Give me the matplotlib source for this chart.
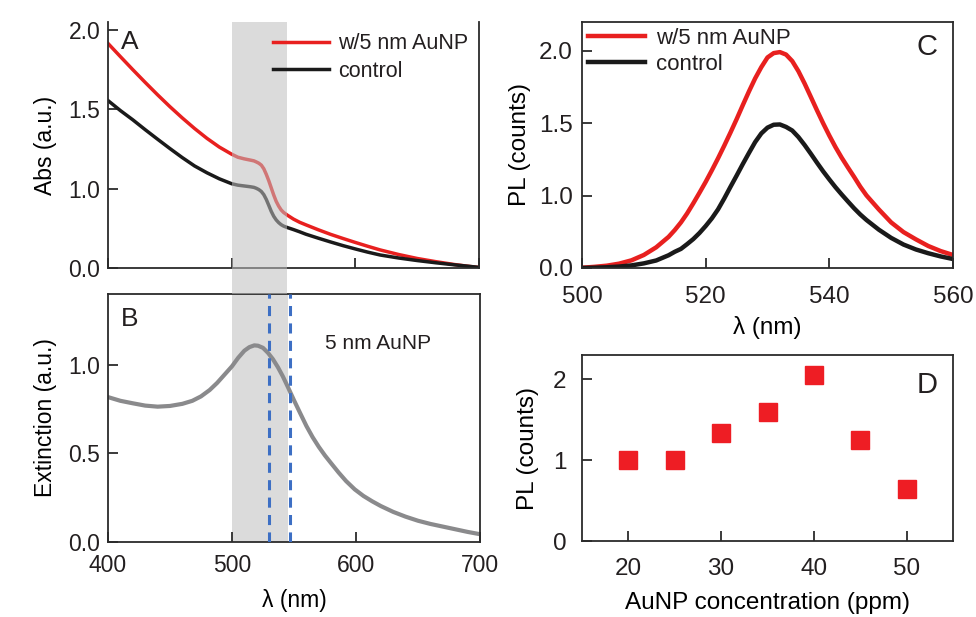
import matplotlib
matplotlib.use("Agg")
import matplotlib.pyplot as plt
import matplotlib.transforms as mtransforms
from matplotlib.patches import Rectangle

plt.rcParams['font.family'] = ['Liberation Sans', 'DejaVu Sans']
plt.rcParams['axes.linewidth'] = 1.3
plt.rcParams['axes.edgecolor'] = '#2b2b2b'
plt.rcParams['text.color'] = '#231f20'
plt.rcParams['xtick.color'] = '#2b2b2b'
plt.rcParams['ytick.color'] = '#2b2b2b'
plt.rcParams['xtick.labelcolor'] = '#231f20'
plt.rcParams['ytick.labelcolor'] = '#231f20'

RED = '#e8201f'
BLACK = '#1a1a1a'

# (A) absorbance, wavelength in nm
abs_wl = [400, 410, 420, 430, 440, 450, 460, 470, 480, 490, 500, 505, 510, 515,
          518, 520, 522, 524, 526, 528, 530, 532, 534, 536, 538, 540, 542, 545,
          550, 555, 560, 570, 580, 590, 600, 610, 620, 635, 650, 665, 680, 690,
          700]
abs_aunp = [1.915, 1.832, 1.750, 1.670, 1.592, 1.517, 1.446, 1.379, 1.317,
            1.262, 1.217, 1.198, 1.188, 1.180, 1.175, 1.168, 1.160, 1.148,
            1.125, 1.090, 1.050, 1.005, 0.960, 0.920, 0.890, 0.866, 0.850,
            0.833, 0.808, 0.788, 0.772, 0.741, 0.712, 0.686, 0.661, 0.637,
            0.614, 0.585, 0.560, 0.540, 0.522, 0.512, 0.503]
abs_control = [1.555, 1.492, 1.434, 1.372, 1.312, 1.253, 1.196, 1.143, 1.100,
               1.062, 1.031, 1.022, 1.017, 1.012, 1.008, 1.002, 0.994, 0.982,
               0.962, 0.932, 0.895, 0.857, 0.826, 0.803, 0.786, 0.773, 0.764,
               0.755, 0.742, 0.728, 0.713, 0.688, 0.664, 0.641, 0.620, 0.600,
               0.582, 0.563, 0.547, 0.533, 0.520, 0.512, 0.504]

# (B) extinction of the 5 nm particles
ext_wl = [400, 410, 420, 430, 440, 450, 460, 468, 475, 482, 488, 494, 500, 505,
          510, 514, 518, 521, 525, 529, 533, 537, 541, 545, 550, 555, 560, 565,
          570, 575, 580, 586, 592, 599, 606, 613, 620, 630, 640, 650, 660, 670,
          680, 690, 700]
ext_val = [0.818, 0.797, 0.783, 0.770, 0.764, 0.768, 0.780, 0.797, 0.822,
           0.858, 0.898, 0.945, 0.992, 1.040, 1.080, 1.100, 1.110, 1.108,
           1.096, 1.068, 1.032, 0.987, 0.935, 0.876, 0.800, 0.727, 0.655,
           0.592, 0.537, 0.488, 0.444, 0.392, 0.344, 0.297, 0.260, 0.230,
           0.203, 0.170, 0.143, 0.120, 0.102, 0.087, 0.072, 0.057, 0.044]

# (C) photoluminescence spectra
pl_wl = [500, 502, 504, 506, 508, 510, 512, 514, 515, 516, 517, 518, 519, 520,
         521, 522, 523, 524, 525, 526, 527, 528, 529, 530, 531, 532, 533, 534,
         535, 536, 537, 538, 539, 540, 541, 542, 543, 544, 545, 546, 548, 550,
         552, 554, 556, 558, 560]
pl_aunp = [0.502, 0.508, 0.516, 0.530, 0.553, 0.590, 0.643, 0.715, 0.762,
           0.815, 0.877, 0.947, 1.020, 1.095, 1.175, 1.258, 1.345, 1.435,
           1.528, 1.625, 1.720, 1.810, 1.888, 1.955, 1.985, 1.992, 1.975,
           1.930, 1.860, 1.775, 1.683, 1.590, 1.500, 1.415, 1.335, 1.262,
           1.195, 1.130, 1.062, 1.002, 0.905, 0.815, 0.748, 0.698, 0.652,
           0.617, 0.590]
pl_control = [0.500, 0.502, 0.505, 0.510, 0.518, 0.532, 0.552, 0.588, 0.612,
              0.632, 0.665, 0.700, 0.742, 0.790, 0.843, 0.905, 0.980, 1.060,
              1.138, 1.218, 1.295, 1.370, 1.430, 1.470, 1.490, 1.492, 1.475,
              1.450, 1.405, 1.350, 1.290, 1.228, 1.168, 1.112, 1.058, 1.008,
              0.960, 0.913, 0.870, 0.832, 0.765, 0.708, 0.662, 0.628, 0.602,
              0.580, 0.562]

# (D) PL peak vs particle concentration
conc_ppm = [20, 25, 30, 35, 40, 45, 50]
pl_peak = [1.0, 1.0, 1.34, 1.6, 2.05, 1.25, 0.64]

band = (500, 545)
dash_wl = [530, 547]

W, H = 976, 617
fig = plt.figure(figsize=(W / 100, H / 100), dpi=100)


def box(left, top, right, bottom):
    return [left / W, 1 - bottom / H, (right - left) / W, (bottom - top) / H]


axA = fig.add_axes(box(108, 22, 479, 268))
axB = fig.add_axes(box(108, 294, 480, 542))
axC = fig.add_axes(box(582, 22, 953, 268))
axD = fig.add_axes(box(582, 355, 953, 541))

FS = 16.5
FS2 = 17.5
for ax in (axA, axB, axC, axD):
    ax.tick_params(direction='in', length=7, width=1.3, labelsize=FS,
                   top=False, right=False)
    ax.tick_params(axis='y', pad=5.5)
axB.tick_params(axis='x', pad=9)
axC.tick_params(labelsize=FS2)
axC.tick_params(axis='x', pad=13)
axC.tick_params(axis='y', pad=6.5)
axD.tick_params(labelsize=FS2)
axD.tick_params(axis='x', pad=12)
axD.tick_params(axis='y', pad=11)

BAND_C = '#bebebe'
BAND_A = 0.55

# A
axA.plot(abs_wl, abs_aunp, color=RED, lw=2.5, label='w/5 nm AuNP', zorder=2)
axA.plot(abs_wl, abs_control, color=BLACK, lw=2.5, label='control', zorder=2)
axA.axvspan(*band, color=BAND_C, alpha=BAND_A, lw=0, zorder=3)
axA.set_xlim(400, 700)
axA.set_ylim(0.5, 2.05)
axA.set_xticks([400, 500, 600, 700])
axA.set_xticklabels([])
axA.set_yticks([0.5, 1.0, 1.5, 2.0])
axA.set_yticklabels(['0.0', '1.0', '1.5', '2.0'])
axA.spines['top'].set_visible(False)
axA.set_ylabel('Abs (a.u.)', fontsize=FS, labelpad=8)
axA.text(0.035, 0.92, 'A', transform=axA.transAxes, fontsize=19, va='center')
axA.legend(loc='upper left', bbox_to_anchor=(0.445, 0.955), frameon=False,
           fontsize=15.5, handlelength=2.6, handletextpad=0.4, labelspacing=0.3,
           borderpad=0, borderaxespad=0)

# gray band carried across the gap between A and B
gap = mtransforms.blended_transform_factory(axA.transData, fig.transFigure)
fig.add_artist(Rectangle((band[0], 1 - 294 / H), band[1] - band[0], 26 / H,
                         transform=gap, facecolor=BAND_C, alpha=BAND_A, lw=0))

# B
axB.axvspan(*band, color=BAND_C, alpha=BAND_A, lw=0, zorder=0.5)
axB.plot(ext_wl, ext_val, color='#8a8a8c', lw=3, zorder=2)
for w in dash_wl:
    axB.axvline(w, color='#3d6fc4', lw=2.2, ls=(0, (3.3, 2.4)), zorder=3)
axB.set_xlim(400, 700)
axB.set_ylim(0, 1.4)
axB.set_xticks([400, 500, 600, 700])
axB.set_yticks([0, 0.5, 1.0])
axB.set_yticklabels(['0.0', '0.5', '1.0'])
axB.set_xlabel('λ (nm)', fontsize=FS, labelpad=8)
axB.set_ylabel('Extinction (a.u.)', fontsize=FS, labelpad=8)
axB.text(0.035, 0.9, 'B', transform=axB.transAxes, fontsize=19, va='center')
axB.text(0.725, 0.8, '5 nm AuNP', transform=axB.transAxes, fontsize=15,
         ha='center', va='center')

# C
axC.plot(pl_wl, pl_aunp, color=RED, lw=3.2, label='w/5 nm AuNP')
axC.plot(pl_wl, pl_control, color=BLACK, lw=3.2, label='control')
axC.set_xlim(500, 560)
axC.set_ylim(0.5, 2.2)
axC.set_xticks([500, 520, 540, 560])
axC.set_yticks([0.5, 1.0, 1.5, 2.0])
axC.set_yticklabels(['0.0', '1.0', '1.5', '2.0'])
axC.set_xlabel('λ (nm)', fontsize=FS2, labelpad=6)
axC.set_ylabel('PL (counts)', fontsize=FS2, labelpad=6)
axC.text(0.93, 0.9, 'C', transform=axC.transAxes, fontsize=21,
         ha='center', va='center')
axC.legend(loc='upper left', bbox_to_anchor=(0.015, 0.975), frameon=False,
           fontsize=16, handlelength=2.6, handletextpad=0.5, labelspacing=0.2,
           borderpad=0, borderaxespad=0)

# D
axD.plot(conc_ppm, pl_peak, ls='none', marker='s', ms=12.5, color='#ee1d24',
         mec='#ee1d24')
axD.set_xlim(15, 55)
axD.set_ylim(0, 2.3)
axD.set_xticks([20, 30, 40, 50])
axD.set_yticks([0, 1, 2])
axD.set_xlabel('AuNP concentration (ppm)', fontsize=FS2, labelpad=9)
axD.set_ylabel('PL (counts)', fontsize=FS2, labelpad=10)
axD.text(0.93, 0.84, 'D', transform=axD.transAxes, fontsize=21,
         ha='center', va='center')

fig.savefig('out.png', dpi=100)
